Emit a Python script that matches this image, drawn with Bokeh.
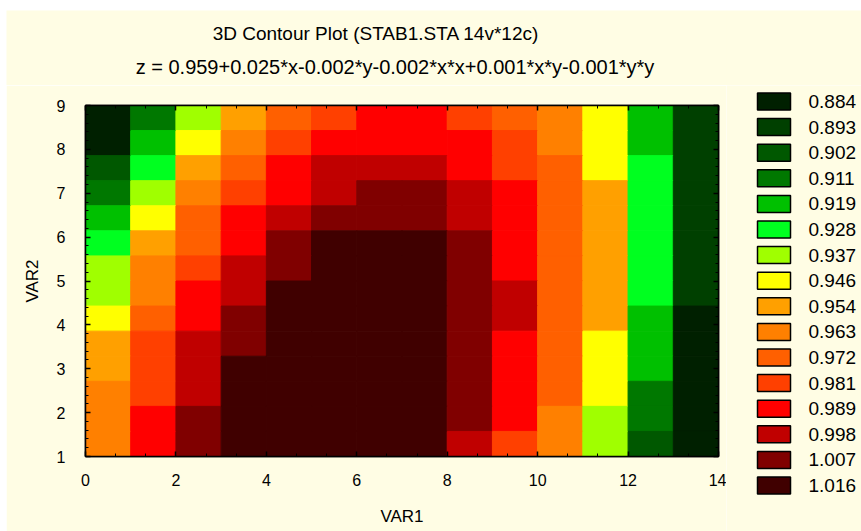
import numpy as np
from bokeh.plotting import figure
from bokeh.layouts import row, column
from bokeh.models import (ColumnDataSource, Range1d, LinearAxis, SingleIntervalTicker)
from bokeh.core.properties import value
from bokeh.transform import linear_cmap
from bokeh.embed import file_html
from bokeh.resources import INLINE

# ---------------- data ----------------
title_line1 = "3D Contour Plot (STAB1.STA 14v*12c)"
title_line2 = "z = 0.959+0.025*x-0.002*y-0.002*x*x+0.001*x*y-0.001*y*y"
x_label = "VAR1"
y_label = "VAR2"

level_labels = ["0.884", "0.893", "0.902", "0.911", "0.919", "0.928", "0.937", "0.946",
                "0.954", "0.963", "0.972", "0.981", "0.989", "0.998", "1.007", "1.016"]
levels = [float(s) for s in level_labels]
level_colors = ["#002000", "#004000", "#005800", "#007800", "#00C000", "#00FF20", "#A0FF00", "#FFFF00",
                "#FFA000", "#FF8000", "#FF6000", "#FF4000", "#FF0000", "#C00000", "#800000", "#400000"]

x_min, x_max, n_cols = 0, 14, 14
y_min, y_max, n_rows = 1, 9, 14

# z per cell, rows listed from top (VAR2 = 9) to bottom (VAR2 = 1), columns VAR1 = 0 .. 14
z_rows = [
    [0.884, 0.911, 0.937, 0.954, 0.972, 0.981, 0.989, 0.989, 0.981, 0.972, 0.963, 0.946, 0.919, 0.893],
    [0.884, 0.919, 0.946, 0.963, 0.981, 0.989, 0.989, 0.989, 0.989, 0.981, 0.963, 0.946, 0.919, 0.893],
    [0.902, 0.928, 0.954, 0.972, 0.989, 0.998, 0.998, 0.998, 0.989, 0.981, 0.972, 0.946, 0.928, 0.893],
    [0.911, 0.937, 0.963, 0.981, 0.989, 0.998, 1.007, 1.007, 0.998, 0.989, 0.972, 0.954, 0.928, 0.893],
    [0.919, 0.946, 0.972, 0.989, 0.998, 1.007, 1.007, 1.007, 0.998, 0.989, 0.972, 0.954, 0.928, 0.893],
    [0.928, 0.954, 0.972, 0.989, 1.007, 1.016, 1.016, 1.016, 1.007, 0.989, 0.972, 0.954, 0.928, 0.893],
    [0.937, 0.963, 0.981, 0.998, 1.007, 1.016, 1.016, 1.016, 1.007, 0.989, 0.972, 0.954, 0.928, 0.893],
    [0.937, 0.963, 0.989, 0.998, 1.016, 1.016, 1.016, 1.016, 1.007, 0.998, 0.972, 0.954, 0.928, 0.893],
    [0.946, 0.972, 0.989, 1.007, 1.016, 1.016, 1.016, 1.016, 1.007, 0.998, 0.972, 0.954, 0.919, 0.884],
    [0.954, 0.981, 0.998, 1.007, 1.016, 1.016, 1.016, 1.016, 1.007, 0.989, 0.972, 0.946, 0.919, 0.884],
    [0.954, 0.981, 0.998, 1.016, 1.016, 1.016, 1.016, 1.016, 1.007, 0.989, 0.972, 0.946, 0.919, 0.884],
    [0.963, 0.981, 0.998, 1.016, 1.016, 1.016, 1.016, 1.016, 1.007, 0.989, 0.972, 0.946, 0.911, 0.884],
    [0.963, 0.989, 1.007, 1.016, 1.016, 1.016, 1.016, 1.016, 1.007, 0.989, 0.963, 0.937, 0.911, 0.884],
    [0.963, 0.989, 1.007, 1.016, 1.016, 1.016, 1.016, 1.016, 0.998, 0.981, 0.963, 0.937, 0.902, 0.884],
]

# ---------------- build cells ----------------
cw = (x_max - x_min) / n_cols
ch = (y_max - y_min) / n_rows
xs, ys, zs = [], [], []
for r, zrow in enumerate(z_rows):
    yc = y_max - (r + 0.5) * ch
    for c, z in enumerate(zrow):
        xs.append(x_min + (c + 0.5) * cw)
        ys.append(yc)
        zs.append(z)
src = ColumnDataSource(dict(x=xs, y=ys, z=zs))

step = (levels[-1] - levels[0]) / (len(levels) - 1)
cmap = linear_cmap("z", level_colors, low=levels[0] - step / 2, high=levels[-1] + step / 2)

BG = "#FFFDE4"
FONT = "Liberation Sans"

def blank_fig(w, h, xr, yr, margin):
    f = figure(width=w, height=h, output_backend="svg", toolbar_location=None,
               x_range=xr, y_range=yr, x_axis_location=None, y_axis_location=None, title=None,
               min_border=0, min_border_left=0, min_border_right=0,
               min_border_top=0, min_border_bottom=0, margin=margin)
    f.border_fill_color = BG
    f.background_fill_color = BG
    f.outline_line_color = None
    f.grid.visible = False
    return f

# ---------------- title panel ----------------
head = blank_fig(855, 75, Range1d(0, 855), Range1d(75, 0), (10, 0, 0, 6))
head.text(x=[369.5], y=[23], text=[title_line1], text_font=value(FONT), text_font_size="19px",
          text_color="black", text_align="center", text_baseline="middle")
head.text(x=[388.5], y=[56], text=[title_line2], text_font=value(FONT), text_font_size="20px",
          text_color="black", text_align="center", text_baseline="middle")

# ---------------- main plot ----------------
p = figure(width=720, height=446, output_backend="svg", toolbar_location=None,
           x_range=Range1d(x_min, x_max), y_range=Range1d(y_min, y_max),
           x_axis_location=None, y_axis_location=None, title=None,
           min_border_left=79, min_border_right=8, min_border_top=20, min_border_bottom=75,
           margin=(0, 0, 0, 6))
p.border_fill_color = BG
p.background_fill_color = BG
p.outline_line_color = "black"
p.outline_line_width = 1.5
p.grid.visible = False

p.rect(x="x", y="y", width=cw, height=ch, source=src,
       fill_color=cmap, line_color=cmap, line_width=1.0)

def styled_axis(ticker, label=None, show_labels=True):
    ax = LinearAxis(ticker=ticker)
    ax.axis_line_color = "black"
    ax.axis_line_width = 1.5
    ax.major_tick_in = 5
    ax.major_tick_out = 0
    ax.minor_tick_in = 3
    ax.minor_tick_out = 0
    ax.major_tick_line_color = "black"
    ax.minor_tick_line_color = "black"
    ax.major_tick_line_width = 1.5
    if show_labels:
        ax.major_label_text_font = FONT
        ax.major_label_text_font_size = "16px"
        ax.major_label_text_color = "black"
        ax.axis_label = label
        ax.axis_label_text_font = FONT
        ax.axis_label_text_font_size = "17px"
        ax.axis_label_text_font_style = "normal"
        ax.axis_label_text_color = "black"
    else:
        ax.major_label_text_color = None
        ax.major_label_text_font_size = "1px"
        ax.major_label_standoff = 0
    return ax

xax = styled_axis(SingleIntervalTicker(interval=2, num_minor_ticks=3), x_label)
xax.major_label_standoff = 17
xax.axis_label_standoff = 18
yax = styled_axis(SingleIntervalTicker(interval=1, num_minor_ticks=5), y_label)
yax.major_label_standoff = 20
yax.axis_label_standoff = 12
p.add_layout(xax, "below")
p.add_layout(yax, "left")
p.add_layout(styled_axis(SingleIntervalTicker(interval=2, num_minor_ticks=3), show_labels=False), "above")
p.add_layout(styled_axis(SingleIntervalTicker(interval=1, num_minor_ticks=5), show_labels=False), "right")

# ---------------- legend panel ----------------
n_lv = len(levels)
leg = blank_fig(135, 446, Range1d(0, 135), Range1d(16.797, -0.625), (0, 0, 0, 0))
leg_src = ColumnDataSource(dict(idx=list(range(n_lv)), lab=level_labels, col=level_colors))
leg.rect(x=47.5, y="idx", width=33, height=17, width_units="screen", height_units="screen",
         source=leg_src, fill_color="col", line_color="black", line_width=1.5)
leg.text(x=82, y="idx", text="lab", source=leg_src, text_font=value(FONT),
         text_font_size="19px", text_color="black", text_align="left", text_baseline="middle")

layout = column(head, row(p, column(leg)))
open("out.html", "w").write(file_html(layout, INLINE))
